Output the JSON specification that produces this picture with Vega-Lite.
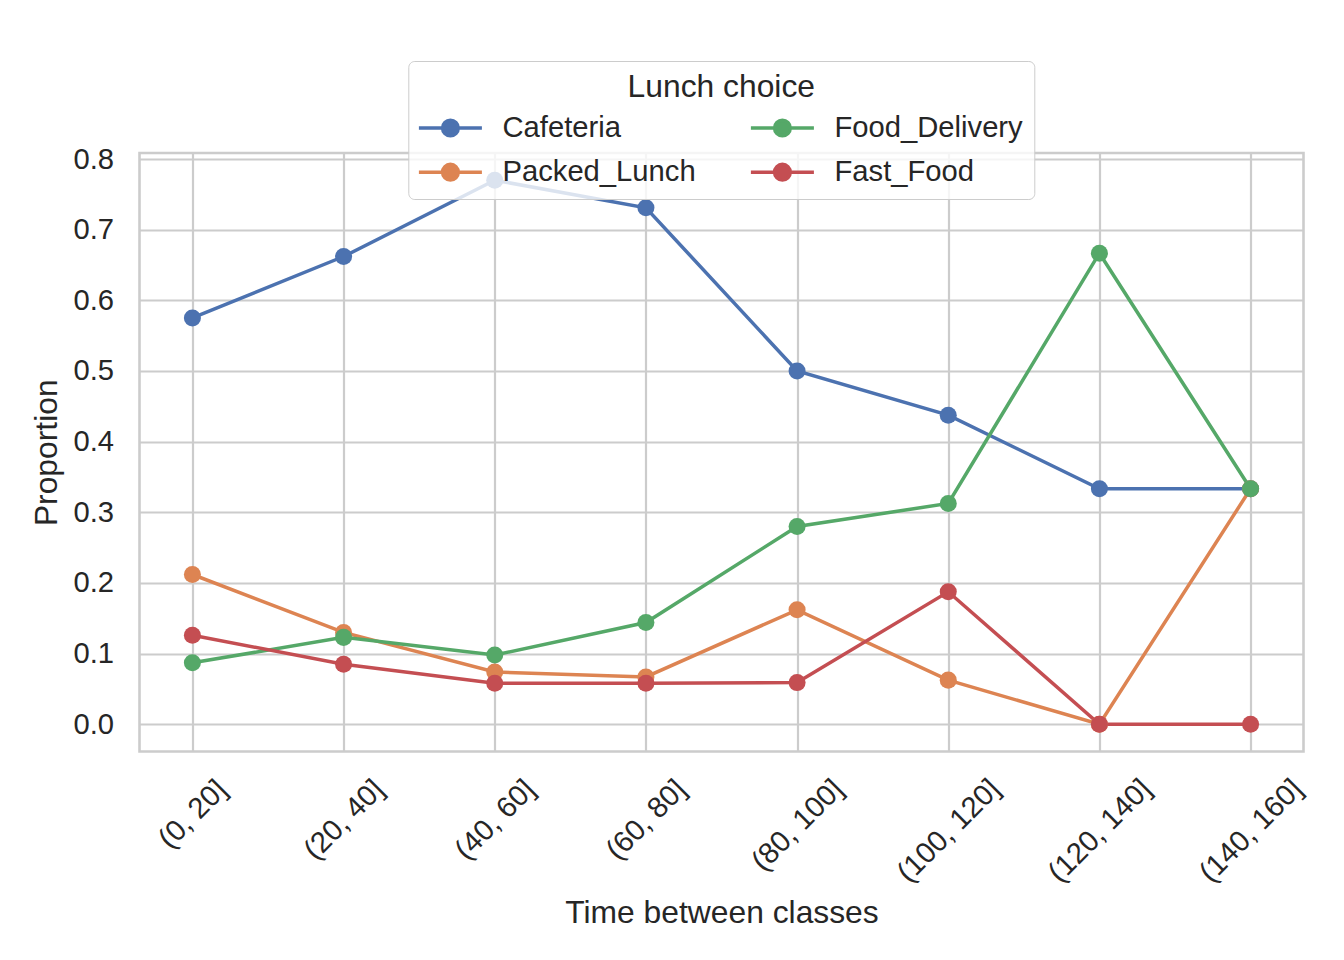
{
  "$schema": "https://vega.github.io/schema/vega-lite/v6.json",
  "width": 1164,
  "height": 598.5,
  "autosize": "none",
  "padding": {"left": 139.5, "top": 153, "right": 40.5, "bottom": 208.5},
  "background": "white",
  "data": {
    "values": [
      {"time": "(0, 20]", "choice": "Cafeteria", "p": 0.575},
      {"time": "(20, 40]", "choice": "Cafeteria", "p": 0.662},
      {"time": "(40, 60]", "choice": "Cafeteria", "p": 0.770},
      {"time": "(60, 80]", "choice": "Cafeteria", "p": 0.731},
      {"time": "(80, 100]", "choice": "Cafeteria", "p": 0.500},
      {"time": "(100, 120]", "choice": "Cafeteria", "p": 0.4375},
      {"time": "(120, 140]", "choice": "Cafeteria", "p": 0.3333},
      {"time": "(140, 160]", "choice": "Cafeteria", "p": 0.3333},
      {"time": "(0, 20]", "choice": "Packed_Lunch", "p": 0.212},
      {"time": "(20, 40]", "choice": "Packed_Lunch", "p": 0.130},
      {"time": "(40, 60]", "choice": "Packed_Lunch", "p": 0.074},
      {"time": "(60, 80]", "choice": "Packed_Lunch", "p": 0.067},
      {"time": "(80, 100]", "choice": "Packed_Lunch", "p": 0.162},
      {"time": "(100, 120]", "choice": "Packed_Lunch", "p": 0.0625},
      {"time": "(120, 140]", "choice": "Packed_Lunch", "p": 0.0},
      {"time": "(140, 160]", "choice": "Packed_Lunch", "p": 0.3333},
      {"time": "(0, 20]", "choice": "Food_Delivery", "p": 0.087},
      {"time": "(20, 40]", "choice": "Food_Delivery", "p": 0.123},
      {"time": "(40, 60]", "choice": "Food_Delivery", "p": 0.098},
      {"time": "(60, 80]", "choice": "Food_Delivery", "p": 0.144},
      {"time": "(80, 100]", "choice": "Food_Delivery", "p": 0.280},
      {"time": "(100, 120]", "choice": "Food_Delivery", "p": 0.3125},
      {"time": "(120, 140]", "choice": "Food_Delivery", "p": 0.6667},
      {"time": "(140, 160]", "choice": "Food_Delivery", "p": 0.3333},
      {"time": "(0, 20]", "choice": "Fast_Food", "p": 0.126},
      {"time": "(20, 40]", "choice": "Fast_Food", "p": 0.085},
      {"time": "(40, 60]", "choice": "Fast_Food", "p": 0.058},
      {"time": "(60, 80]", "choice": "Fast_Food", "p": 0.058},
      {"time": "(80, 100]", "choice": "Fast_Food", "p": 0.059},
      {"time": "(100, 120]", "choice": "Fast_Food", "p": 0.1875},
      {"time": "(120, 140]", "choice": "Fast_Food", "p": 0.0},
      {"time": "(140, 160]", "choice": "Fast_Food", "p": 0.0}
    ]
  },
  "mark": {
    "type": "line",
    "strokeWidth": 3.5,
    "point": {"filled": true, "size": 290, "opacity": 1}
  },
  "encoding": {
    "x": {
      "field": "time",
      "type": "ordinal",
      "sort": null,
      "title": "Time between classes",
      "scale": {"type": "point", "padding": 0.35},
      "axis": {
        "grid": true,
        "ticks": false,
        "domain": false,
        "labelAngle": -45,
        "labelAlign": "center",
        "labelBaseline": "middle",
        "labelPadding": {"expr": "62.5 + 5.5 * (length(datum.label) - 7)"},
        "titleY": 171.2,
        "titleBaseline": "alphabetic"
      }
    },
    "y": {
      "field": "p",
      "type": "quantitative",
      "title": "Proportion",
      "scale": {"domain": [-0.0385, 0.8085], "nice": false, "zero": false},
      "axis": {
        "values": [0, 0.1, 0.2, 0.3, 0.4, 0.5, 0.6, 0.7, 0.8],
        "format": ".1f",
        "grid": true,
        "ticks": false,
        "domain": false,
        "labelPadding": 26,
        "titleAngle": -90,
        "titleX": -83.5,
        "titleY": 299.25,
        "titleAlign": "center",
        "titleBaseline": "alphabetic"
      }
    },
    "color": {
      "field": "choice",
      "type": "nominal",
      "title": "Lunch choice",
      "scale": {
        "domain": ["Cafeteria", "Packed_Lunch", "Food_Delivery", "Fast_Food"],
        "range": ["#4C72B0", "#DD8452", "#55A868", "#C44E52"]
      },
      "legend": {
        "orient": "none",
        "legendX": 268.8,
        "legendY": -92,
        "columns": 2,
        "columnPadding": 47,
        "rowPadding": 13.3,
        "padding": 11,
        "titleAnchor": "middle",
        "titlePadding": 9.5,
        "titleLimit": 600,
        "symbolType": "M-1.5,0L4.8,0M2.435,0A0.785,0.785 0 1 1 0.865,0A0.785,0.785 0 1 1 2.435,0Z",
        "symbolSize": 400,
        "symbolStrokeWidth": 3.5,
        "symbolFillColor": {"expr": "scale('color', datum.value)"},
        "symbolStrokeColor": {"expr": "scale('color', datum.value)"},
        "labelOffset": 54,
        "fillColor": "rgba(255,255,255,0.8)",
        "strokeColor": "#cccccc",
        "cornerRadius": 6
      }
    }
  },
  "config": {
    "font": "Liberation Sans",
    "view": {"stroke": "#cccccc", "strokeWidth": 2.6},
    "axis": {
      "gridColor": "#cccccc",
      "gridWidth": 2.2,
      "gridOpacity": 1,
      "labelFontSize": 29.2,
      "labelColor": "#262626",
      "titleFontSize": 31.8,
      "titleFontWeight": "normal",
      "titleColor": "#262626"
    },
    "legend": {
      "labelFontSize": 29.2,
      "labelColor": "#262626",
      "titleFontSize": 31.8,
      "titleFontWeight": "normal",
      "titleColor": "#262626",
      "labelLimit": 400
    }
  }
}
